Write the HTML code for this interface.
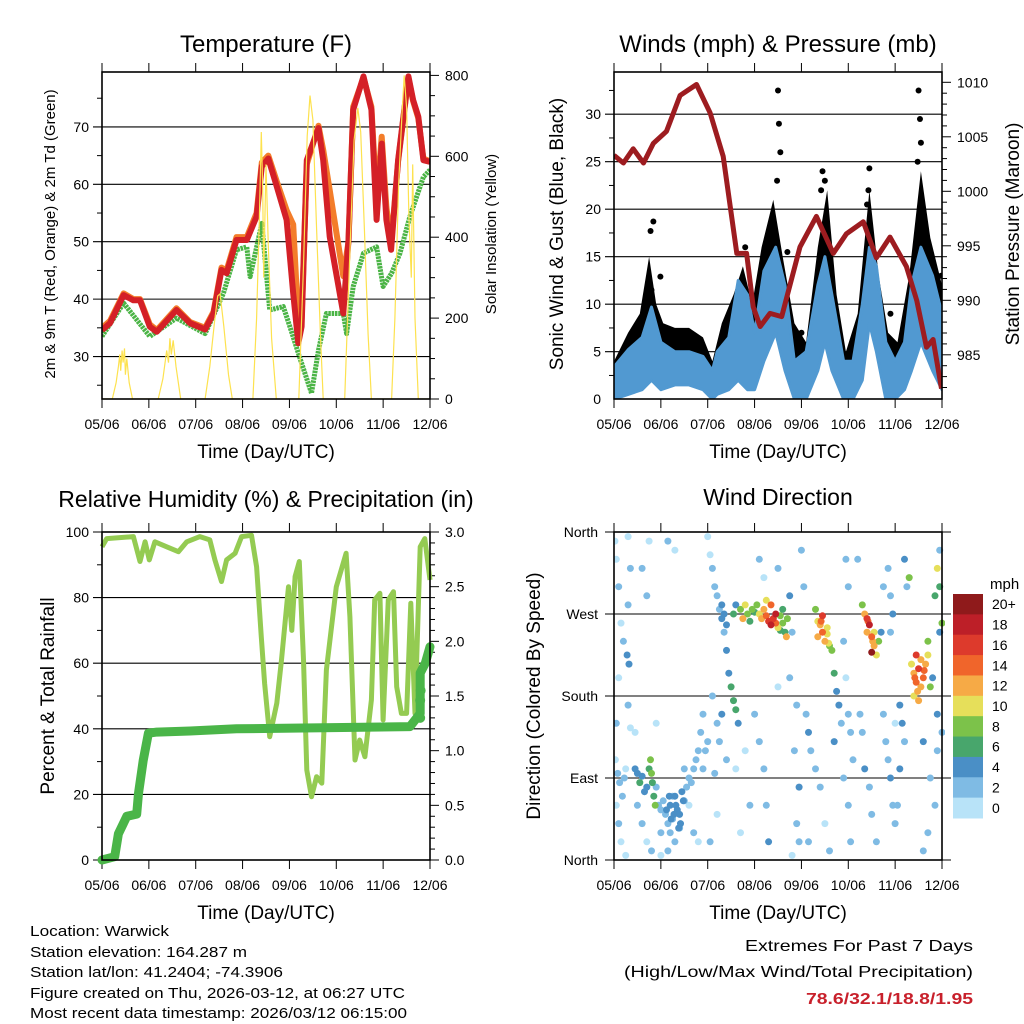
<!DOCTYPE html>
<html><head><meta charset="utf-8"><style>
html,body{margin:0;padding:0;background:#fff;}
svg{display:block;font-family:"Liberation Sans",sans-serif;}
</style></head><body>
<svg id="root" width="1024" height="1024" viewBox="0 0 1024 1024" xmlns="http://www.w3.org/2000/svg">
<rect width="1024" height="1024" fill="#fff"/>
<text x="266" y="52" font-size="24" text-anchor="middle">Temperature (F)</text>
<text x="778" y="52" font-size="24" text-anchor="middle">Winds (mph) &amp; Pressure (mb)</text>
<text x="266" y="507" font-size="23" text-anchor="middle">Relative Humidity (%) &amp; Precipitation (in)</text>
<text x="778" y="505" font-size="23" text-anchor="middle">Wind Direction</text>
<text transform="translate(55,234) rotate(-90)" font-size="15" text-anchor="middle">2m &amp; 9m T (Red, Orange) &amp; 2m Td (Green)</text>
<text transform="translate(496,234) rotate(-90)" font-size="15" text-anchor="middle">Solar Insolation (Yellow)</text>
<text transform="translate(563,234) rotate(-90)" font-size="19" text-anchor="middle">Sonic Wind &amp; Gust (Blue, Black)</text>
<text transform="translate(1019,234) rotate(-90)" font-size="19" text-anchor="middle">Station Pressure (Maroon)</text>
<text transform="translate(54,696) rotate(-90)" font-size="19" text-anchor="middle">Percent &amp; Total Rainfall</text>
<text transform="translate(540,696) rotate(-90)" font-size="19" text-anchor="middle">Direction (Colored By Speed)</text>
<text x="266" y="458" font-size="19" text-anchor="middle">Time (Day/UTC)</text>
<text x="778" y="458" font-size="19" text-anchor="middle">Time (Day/UTC)</text>
<text x="266" y="919" font-size="19" text-anchor="middle">Time (Day/UTC)</text>
<text x="778" y="919" font-size="19" text-anchor="middle">Time (Day/UTC)</text>
<g font-size="15">
<text x="30" y="936" textLength="139" lengthAdjust="spacingAndGlyphs">Location: Warwick</text>
<text x="30" y="957" textLength="217" lengthAdjust="spacingAndGlyphs">Station elevation: 164.287 m</text>
<text x="30" y="977" textLength="253" lengthAdjust="spacingAndGlyphs">Station lat/lon: 41.2404; -74.3906</text>
<text x="30" y="998" textLength="375" lengthAdjust="spacingAndGlyphs">Figure created on Thu, 2026-03-12, at 06:27 UTC</text>
<text x="30" y="1018" textLength="377" lengthAdjust="spacingAndGlyphs">Most recent data timestamp: 2026/03/12 06:15:00</text>
</g>
<text x="973" y="951" font-size="16" text-anchor="end" textLength="228" lengthAdjust="spacingAndGlyphs">Extremes For Past 7 Days</text>
<text x="973" y="977" font-size="16" text-anchor="end" textLength="349" lengthAdjust="spacingAndGlyphs">(High/Low/Max Wind/Total Precipitation)</text>
<text x="973" y="1004" font-size="16" font-weight="bold" fill="#c8202b" text-anchor="end" textLength="167" lengthAdjust="spacingAndGlyphs">78.6/32.1/18.8/1.95</text>
</svg>
<script>
const dayLabels=['05/06','06/06','07/06','08/06','09/06','10/06','11/06','12/06'];
// Temperature
const tDay=[0,0.17,0.46,0.67,0.81,1.02,1.17,1.59,1.88,2.2,2.38,2.55,2.66,2.87,3.09,3.3,3.41,3.55,3.73,3.94,4.08,4.19,4.26,4.37,4.62,4.72,4.86,5.15,5.26,5.36,5.58,5.75,5.86,5.97,6.07,6.17,6.32,6.54,6.64,6.75,6.86,7.0];
const tRed=[34.6,35.8,40.7,39.8,39.8,35.2,34.3,38.1,35.8,34.7,37.5,45.1,44.5,50.3,50.3,54.4,63.1,64.5,59.6,53.8,41.0,32.3,35.2,64.2,69.8,64.2,50.9,37.5,50.3,73.0,78.8,73.0,53.8,67.1,53.8,48.6,64.2,78.8,74.7,71.8,64.2,63.9];
const tOrange=[35.0,36.2,41.0,40.0,40.0,35.6,34.6,38.4,36.0,35.0,37.8,45.5,45.0,50.8,50.8,55.0,63.8,65.0,60.5,55.5,53.0,36.0,36.5,63.5,70.2,66.0,59.0,44.0,50.0,73.5,78.6,73.5,57.0,68.3,56.0,49.5,64.0,78.6,74.5,71.5,64.5,64.0];
const dDay=[0,0.46,1.02,1.59,2.2,2.59,2.87,3.09,3.16,3.41,3.58,3.87,4.01,4.19,4.47,4.62,4.79,5.15,5.22,5.36,5.58,5.86,6.0,6.18,6.36,6.57,6.86,7.0];
const tDew=[33.5,39.3,33.5,36.7,34.0,41.0,48.6,49.1,43.9,53.2,38.1,38.7,35.2,30.6,23.6,31.1,37.5,37.5,34.0,42.2,48.0,49.1,42.2,44.5,48.0,54.4,61.3,62.5];
const solarDay=[0,0.22,0.3,0.35,0.38,0.4,0.43,0.45,0.48,0.5,0.53,0.58,0.65,1.2,1.3,1.38,1.42,1.45,1.48,1.52,1.58,1.68,2.2,2.3,2.4,2.47,2.52,2.6,2.7,2.78,3.22,3.3,3.36,3.4,3.43,3.45,3.5,3.55,3.62,3.72,4.2,4.3,4.38,4.44,4.5,4.58,4.66,4.72,5.18,5.28,5.38,5.46,5.52,5.6,5.68,5.75,6.18,6.25,6.33,6.4,6.45,6.5,6.55,6.6,6.63,6.68,6.75,7.0];
const solarVal=[0,0,40,80,110,70,120,90,125,60,100,40,0,0,50,120,90,150,110,145,80,0,0,80,190,255,260,180,60,0,0,200,450,660,520,300,580,380,150,0,0,330,650,750,690,420,160,0,0,330,640,720,660,420,160,0,0,200,530,700,800,720,450,300,580,200,0,0];
// Winds
const pDay=[0,0.2,0.41,0.63,0.84,1.12,1.41,1.76,2.05,2.33,2.62,2.83,2.97,3.12,3.33,3.58,3.97,4.32,4.68,4.96,5.32,5.6,5.89,6.24,6.46,6.67,6.81,6.99];
const pressure=[1003.3,1002.6,1003.9,1002.6,1004.4,1005.5,1008.8,1009.8,1007.2,1003.2,994.3,994.3,989.4,987.6,988.8,988.5,994.9,997.7,994.3,996.1,997.2,993.9,995.8,993.1,990.0,985.7,986.4,981.9];
const wDay=[0,0.3,0.6,0.8,1.0,1.3,1.6,1.9,2.1,2.2,2.45,2.65,2.85,3.0,3.2,3.45,3.65,3.85,4.1,4.35,4.5,4.65,4.9,5.1,5.3,5.45,5.6,5.8,6.0,6.2,6.35,6.55,6.8,7.0];
const windHigh=[3.4,5.2,6.5,9.7,6,5,5,4.5,3,5,6.5,12.5,11,7,13.5,16,12,4,5,12,15,11,4,4,10,16,14,6,4,6,12,16,13,9];
const windLow=[0,0.5,1,2,1,1.5,1.5,1,0,0.5,1,2,1,1,4,7,3,0,0,3,6,3,0,0,2,8,5,0,0,1,3,6,3,1];
const gDay=[0,0.3,0.55,0.75,0.9,1.05,1.3,1.6,1.9,2.1,2.3,2.55,2.75,2.95,3.15,3.4,3.6,3.85,4.1,4.35,4.55,4.75,4.95,5.2,5.45,5.65,5.85,6.05,6.3,6.55,6.75,7.0];
const gustHigh=[4,7,9,15,10,8,7.5,7.5,6.5,4,8,11,14,10,16,21,15,8,6,16,22,11,5,9,22,13,7,6,13,24,17,12];
const gustDotDay=[0.84,0.78,0.8,0.99,2.79,2.8,3.5,3.52,3.55,3.48,4.45,4.5,4.42,5.45,5.4,5.43,6.5,6.53,6.55,6.48,6.85,3.7,4.0,2.95,5.9,6.98];
const gustDotVal=[18.7,17.7,11.5,12.9,10.7,16,32.5,29,26,23,24,23,22,24.3,20.5,22,32.5,29.5,27,25,13,15.5,7,9.5,9,13];
// Humidity & precip
const rhDay=[0,0.1,0.67,0.81,0.92,1.01,1.13,1.38,1.63,1.81,2.09,2.3,2.41,2.55,2.66,2.84,2.98,3.19,3.3,3.4,3.47,3.58,3.73,3.83,3.98,4.05,4.12,4.21,4.3,4.37,4.47,4.58,4.69,4.79,5.0,5.21,5.29,5.4,5.5,5.61,5.75,5.82,5.93,6.0,6.11,6.22,6.29,6.39,6.5,6.59,6.68,6.79,6.89,7.0];
const rhVal=[95.5,98,98.6,91,97,91.5,97,95.5,94,97,98.6,97.6,91.5,84.9,91.5,93.5,98.6,99,89.4,68,53.9,37.6,47.8,61,83.3,70,86.4,91,61,27.4,19.3,25.4,23.4,58,83.3,93.5,74.2,30.5,36.6,31.5,48.8,79.3,81.3,42.7,79.3,81.8,52.8,44.7,44.7,78.3,44.7,95.5,98,85.4];
const prDay=[0,0.27,0.35,0.53,0.74,0.78,0.88,0.99,1.17,1.88,2.87,6.57,6.68,6.79,6.79,6.9,7.0];
const prVal=[0,0.03,0.24,0.40,0.42,0.61,0.91,1.16,1.17,1.18,1.2,1.22,1.28,1.34,1.71,1.8,1.95];
const prDotDay=[6.79,6.79,6.8];
const prDotVal=[1.46,1.30,1.55];
// Wind direction
const dirDay=[0.02,0.05,0.1,0.15,0.2,0.1,0.05,0.03,0.08,0.12,0.18,0.22,0.25,0.05,0.1,0.15,0.25,0.3,0.35,0.3,0.35,0.3,0.28,0.32,
0.45,0.5,0.55,0.6,0.65,0.7,0.75,0.78,0.8,0.82,0.85,0.88,0.9,0.95,1.0,0.5,0.6,0.7,0.8,0.45,0.9,1.0,0.75,0.6,0.7,
1.05,1.1,1.15,1.2,1.25,1.3,1.35,1.4,1.45,1.5,1.55,1.6,1.65,1.7,1.75,1.8,1.85,1.2,1.3,1.4,1.15,1.0,1.25,1.5,1.6,1.7,1.8,1.9,1.95,1.9,1.15,1.3,1.12,1.22,1.32,1.42,1.18,1.28,1.38,1.48,
2.0,2.05,2.1,2.15,2.2,2.25,2.3,2.35,2.4,2.45,2.5,2.55,2.6,2.65,2.3,2.35,2.4,2.55,2.6,2.7,2.75,2.8,2.85,2.9,2.95,2.1,2.2,2.25,2.4,2.6,2.8,2.9,2.7,2.2,2.05,2.15,2.3,2.0,
3.0,3.05,3.1,3.15,3.2,3.25,3.3,3.35,3.4,3.45,3.5,3.55,3.6,3.65,3.7,3.25,3.35,3.45,3.55,3.75,3.8,3.0,3.1,3.2,3.25,3.3,3.1,3.2,3.5,3.75,3.9,3.85,3.95,3.9,3.95,3.8,3.5,3.6,3.68,
4.0,4.05,4.1,4.15,4.2,4.3,4.35,4.4,4.45,4.5,4.55,4.6,4.65,4.7,4.75,4.8,4.85,4.7,4.35,4.45,4.55,4.3,4.4,4.5,4.6,4.95,5.0,5.0,5.05,5.1,4.9,4.9,4.95,5.0,5.05,4.15,4.42,4.58,
5.3,5.35,5.4,5.45,5.5,5.55,5.6,5.65,5.4,5.5,5.55,5.7,5.2,5.25,5.3,5.35,5.45,5.5,5.6,5.75,5.8,5.85,5.9,5.95,6.0,5.85,5.9,5.95,5.75,5.9,6.0,5.42,5.52,
6.1,6.15,6.2,6.1,6.05,6.2,6.25,6.3,6.35,6.4,6.45,6.5,6.55,6.6,6.65,6.7,6.75,6.45,6.55,6.4,6.5,6.7,6.85,6.9,6.95,7.0,6.95,6.8,6.9,7.0,6.9,6.85,6.7,6.6,6.6,6.75,6.95,6.42,6.48,6.62];
const dirDeg=[350,330,300,260,240,200,150,110,95,85,70,90,100,60,40,20,5,170,145,280,320,355,225,215,
100,95,85,92,75,80,100,110,95,85,70,60,80,60,55,60,40,20,10,140,150,30,350,320,290,
65,50,40,60,45,70,55,50,75,65,80,90,85,100,110,120,140,30,20,35,10,5,70,100,60,30,20,160,120,100,350,340,55,45,60,40,70,50,35,65,
355,335,320,300,290,275,265,250,230,205,190,175,165,150,280,270,258,270,280,275,265,280,270,262,275,180,150,130,110,100,120,60,30,50,20,95,160,130,
272,280,270,265,275,268,262,258,265,260,255,268,275,250,265,285,280,270,252,290,250,160,130,100,60,20,330,310,320,200,170,120,80,40,20,5,190,260,245,
340,300,160,140,120,275,262,258,250,240,255,235,230,205,185,170,150,130,245,268,248,100,80,40,10,330,300,160,140,110,90,240,200,60,20,20,262,238,
280,270,265,258,245,235,225,240,250,228,250,250,330,160,140,100,80,50,20,160,130,110,90,60,40,320,290,270,300,250,150,262,240,
170,150,130,100,60,330,300,310,215,205,195,210,190,200,215,225,190,225,220,180,175,240,290,320,300,260,250,200,160,140,120,60,30,10,130,90,340,200,185,208];
const dirSpd=[1,1,2,1,2,1,2,1,2,3,2,2,1,1,2,1,1,2,1,3,2,1,4,4,
4,5,6,4,5,4,7,8,9,7,6,8,3,3,2,2,2,1,2,1,1,2,1,2,2,
2,2,3,4,3,4,4,4,4,3,3,3,2,2,2,2,2,2,3,2,2,1,2,2,1,2,1,2,3,2,2,1,4,5,4,5,4,5,4,5,
1,1,2,2,2,3,4,3,4,4,6,6,6,5,4,4,4,6,5,8,12,10,8,6,9,2,3,2,2,1,1,2,1,1,2,3,4,2,
7,9,11,13,12,15,17,18,16,14,11,8,6,7,8,10,14,18,6,4,2,2,2,3,3,4,2,1,3,2,3,3,4,3,3,1,1,9,12,
2,2,3,4,3,9,11,13,15,12,10,8,9,6,5,4,3,4,12,16,10,2,2,1,2,2,2,3,2,3,3,3,1,2,3,2,14,11,
8,12,16,18,14,12,11,9,13,20,10,5,2,2,3,4,3,2,2,2,3,3,4,3,2,2,3,4,2,3,1,15,13,
4,5,3,4,3,4,3,8,11,13,15,17,12,14,13,11,9,16,13,10,13,8,7,10,6,8,5,5,4,3,3,2,2,2,4,3,2,14,12,15];
const cbColors=['#b8e3f8','#7fbbe4','#4a8fc6','#48a66c','#7cc24a','#e6df5a','#f6aa46','#f0652b','#dd3a2c','#bd1f28','#8f1a1b'];
const cbLabels=['0','2','4','6','8','10','12','14','16','18','20+'];

const NS='http://www.w3.org/2000/svg';
const root=document.getElementById('root');
function mk(tag,attrs,parent){const e=document.createElementNS(NS,tag);for(const k in attrs)e.setAttribute(k,attrs[k]);(parent||root).appendChild(e);return e;}
function ln(x1,y1,x2,y2,w,p){return mk('line',{x1:x1,y1:y1,x2:x2,y2:y2,stroke:'#000','stroke-width':w||1},p);}
function txt(x,y,s,anchor,size,p){const t=mk('text',{x:x,y:y,'font-size':size||14,'text-anchor':anchor||'middle'},p);t.textContent=s;return t;}
function pathFrom(xs,ys,fx,fy){let d='';for(let i=0;i<xs.length;i++){d+=(i?'L':'M')+fx(xs[i]).toFixed(1)+' '+fy(ys[i]).toFixed(1);}return d;}

function panel(name,x0,y0,x1,y1){
  const g=mk('g',{});
  
  
  const xs=d=>x0+d*(x1-x0)/7;
  for(let i=0;i<8;i++){
    const x=xs(i);
    ln(x,y0,x,y0-9,1,g);
    ln(x,y1,x,y1+9,1,g);
    const t=txt(x,y1+30,dayLabels[i],'middle',14,g);
    
    
  }
  return {g:g,xs:xs};
}
function frame(g,x0,y0,x1,y1){
  const r=mk('rect',{x:x0,y:y0,width:x1-x0,height:y1-y0,fill:'none',stroke:'#000','stroke-width':1.6},g);
  
  
}

// ===== Panel 1: Temperature =====
(function(){
  const x0=102,y0=72,x1=430,y1=399;
  const P=panel('temperature-panel',x0,y0,x1,y1),g=P.g,xs=P.xs;
  const ty=v=>399-(v-22.6)*5.74;
  const sy=v=>399-v*0.4045;
  for(let v=30;v<=70;v+=10){ln(x0-9,ty(v),x1,ty(v),1.1,g);const t=txt(x0-13,ty(v)+5,String(v),'end',14,g);}
  for(let v=25;v<=75;v+=10){ln(x0-5,ty(v),x0,ty(v),1,g);}
  for(let v=0;v<=800;v+=50){ln(x1,sy(v),x1+(v%200===0?9:5),sy(v),1,g);}
  for(let v=0;v<=800;v+=200){const t=txt(x1+15,sy(v)+5,String(v),'start',14,g);}
  const cp=mk('clipPath',{id:'c1'},g);mk('rect',{x:x0,y:y0,width:x1-x0,height:y1-y0},cp);
  const dg=mk('g',{'clip-path':'url(#c1)'},g);
  const gr=mk('path',{d:pathFrom(dDay,tDew,xs,ty),fill:'none',stroke:'#4bb446','stroke-width':5,'stroke-dasharray':'2.5 0.8','stroke-linejoin':'round'},dg);
  
  
  const or=mk('path',{d:pathFrom(tDay,tOrange,xs,ty),fill:'none',stroke:'#f37d2a','stroke-width':6,'stroke-linejoin':'round'},dg);
  
  
  const rd=mk('path',{d:pathFrom(tDay,tRed,xs,ty),fill:'none',stroke:'#d42027','stroke-width':6,'stroke-linejoin':'round'},dg);
  
  
  const yl=mk('path',{d:pathFrom(solarDay,solarVal,xs,sy),fill:'none',stroke:'#fde24f','stroke-width':1.2},dg);
  
  
  frame(g,x0,y0,x1,y1);
})();

// ===== Panel 2: Winds =====
(function(){
  const x0=614,y0=72,x1=942,y1=399;
  const P=panel('winds-panel',x0,y0,x1,y1),g=P.g,xs=P.xs;
  const wy=v=>399.2-v*9.5;
  const py=p=>82.3+(1010-p)*10.9;
  for(let v=5;v<=30;v+=5){ln(x0-9,wy(v),x1,wy(v),1.1,g);}
  for(let v=0;v<=30;v+=5){const t=txt(x0-13,wy(v)+5,String(v),'end',14,g);}
  for(let v=2.5;v<=32.5;v+=5){ln(x0-5,wy(v),x0,wy(v),1,g);}
  for(let p=982;p<=1012;p++){if(py(p)>=y0&&py(p)<=y1)ln(x1,py(p),x1+(p%5===0?9:5),py(p),1,g);}
  for(let p=985;p<=1010;p+=5){const t=txt(x1+15,py(p)+5,String(p),'start',14,g);}
  const cp=mk('clipPath',{id:'c2'},g);mk('rect',{x:x0,y:y0,width:x1-x0,height:y1-y0},cp);
  const dg=mk('g',{'clip-path':'url(#c2)'},g);
  let d='M'+xs(gDay[0])+' '+wy(0);
  for(let i=0;i<gDay.length;i++)d+='L'+xs(gDay[i]).toFixed(1)+' '+wy(gustHigh[i]).toFixed(1);
  d+='L'+xs(gDay[gDay.length-1])+' '+wy(0)+'Z';
  const gb=mk('path',{d:d,fill:'#000',stroke:'none'},dg);
  
  
  let wl='M'+xs(wDay[0])+' '+wy(-1);
  for(let i=0;i<wDay.length;i++)wl+='L'+xs(wDay[i]).toFixed(1)+' '+wy(windLow[i]).toFixed(1);
  wl+='L'+xs(wDay[wDay.length-1])+' '+wy(-1)+'Z';
  mk('path',{d:wl,fill:'#fff'},dg);
  for(let i=0;i<gustDotDay.length;i++){const c=mk('circle',{cx:xs(gustDotDay[i]),cy:wy(gustDotVal[i]),r:3,fill:'#000'},dg);}
  let b='';
  for(let i=0;i<wDay.length;i++)b+=(i?'L':'M')+xs(wDay[i]).toFixed(1)+' '+wy(windHigh[i]).toFixed(1);
  for(let i=wDay.length-1;i>=0;i--)b+='L'+xs(wDay[i]).toFixed(1)+' '+wy(windLow[i]).toFixed(1);
  b+='Z';
  const bb=mk('path',{d:b,fill:'#5199d1',stroke:'#5199d1','stroke-width':3,'stroke-linejoin':'round'},dg);
  
  
  const pl=mk('path',{d:pathFrom(pDay,pressure,xs,py),fill:'none',stroke:'#9d1c20','stroke-width':5,'stroke-linejoin':'round'},dg);
  
  
  frame(g,x0,y0,x1,y1);
})();

// ===== Panel 3: RH & precip =====
(function(){
  const x0=102,y0=532,x1=430,y1=860;
  const P=panel('humidity-panel',x0,y0,x1,y1),g=P.g,xs=P.xs;
  const ry=v=>860-v*3.28;
  const pry=p=>860-p*109.33;
  for(let v=0;v<=100;v+=20){ln(x0-9,ry(v),x1,ry(v),1.1,g);const t=txt(x0-13,ry(v)+5,String(v),'end',14,g);}
  for(let v=10;v<=90;v+=20){ln(x0-5,ry(v),x0,ry(v),1,g);}
  for(let i=0;i<=30;i++){const p=i/10;ln(x1,pry(p),x1+(i%5===0?9:5),pry(p),1,g);}
  for(let i=0;i<=6;i++){const p=i*0.5;const t=txt(x1+15,pry(p)+5,p.toFixed(1),'start',14,g);}
  const dg=mk('g',{},g);
  const rh=mk('path',{d:pathFrom(rhDay,rhVal,xs,ry),fill:'none',stroke:'#94cb52','stroke-width':5,'stroke-linejoin':'round'},dg);
  
  
  const pr=mk('path',{d:pathFrom(prDay,prVal,xs,pry),fill:'none',stroke:'#4ab548','stroke-width':9,'stroke-linejoin':'round','stroke-linecap':'round'},dg);
  
  
  for(let i=0;i<prDotDay.length;i++){const c=mk('circle',{cx:xs(prDotDay[i]),cy:pry(prDotVal[i]),r:5,fill:'#4ab548'},dg);}
  frame(g,x0,y0,x1,y1);
})();

// ===== Panel 4: Wind direction =====
(function(){
  const x0=614,y0=532,x1=942,y1=860;
  const P=panel('wind-direction-panel',x0,y0,x1,y1),g=P.g,xs=P.xs;
  const dy=d=>860-d*328/360;
  const names=['North','East','South','West','North'];
  for(let i=0;i<=4;i++){const y=dy(i*90);ln(x0-9,y,x1+9,y,1.1,g);const t=txt(x0-16,y+5,names[i],'end',14,g);}
  const cp=mk('clipPath',{id:'c4'},g);mk('rect',{x:x0,y:y0-3,width:x1-x0+3,height:y1-y0+6},cp);
  const dg=mk('g',{'clip-path':'url(#c4)'},g);
  const order=dirSpd.map((s,i)=>i).sort((a,b)=>dirSpd[a]-dirSpd[b]);
  for(const i of order){
    const bin=Math.min(10,Math.floor(dirSpd[i]/2));
    const c=mk('circle',{cx:xs(dirDay[i]).toFixed(1),cy:dy(dirDeg[i]).toFixed(1),r:3.5,fill:cbColors[bin]},dg);
    
    
  }
  frame(g,x0,y0,x1,y1);
  const cb=mk('g',{});
  
  
  const t0=txt(990,589,'mph','start',15,cb);
  
  
  const top=594,h=224/11;
  for(let i=0;i<11;i++){
    const k=10-i;
    const r=mk('rect',{x:953,y:(top+i*h).toFixed(2),width:30,height:(h+0.5).toFixed(2),fill:cbColors[k]},cb);
    
    
    const t=txt(992,top+i*h+h/2+5,cbLabels[k],'start',14,cb);
    
    
  }
})();
</script>
</body></html>
